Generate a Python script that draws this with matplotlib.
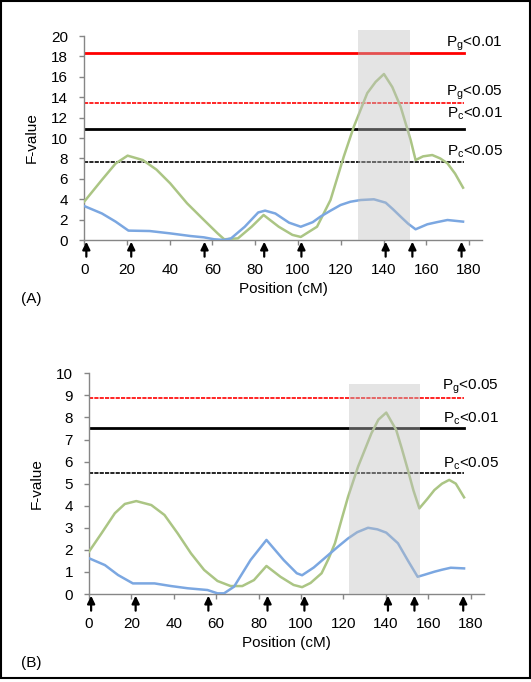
import matplotlib
matplotlib.use("Agg")
from matplotlib import pyplot as plt
from matplotlib.patches import Rectangle
import numpy as np

plt.rcParams['font.family'] = ['Liberation Sans', 'DejaVu Sans']
plt.rcParams['mathtext.fontset'] = 'custom'
plt.rcParams['mathtext.rm'] = 'Liberation Sans'
plt.rcParams['mathtext.default'] = 'regular'

# panel A curves (position in cM, F-value)
a_green_x = [0, 8.3, 14.7, 20.3, 27.4, 33.8, 40.2, 48.1, 56.0, 62.4, 65.5, 71.9, 78.3, 83.9,
             91.0, 97.4, 101.3, 108.9, 115.2, 121.4, 126.1, 132.4, 136.3, 140.2, 144.1,
             148.0, 152.7, 155.0, 158.5, 162.8, 166.5, 169.9, 173.5, 177.2]
a_green_y = [3.76, 5.9, 7.5, 8.27, 7.84, 6.9, 5.56, 3.6, 1.96, 0.65, 0.07, 0.16, 1.3, 2.45,
             1.3, 0.5, 0.3, 1.3, 3.92, 8.17, 11.1, 14.4, 15.5, 16.27, 15.0,
             13.07, 9.8, 7.84, 8.2, 8.33, 8.0, 7.52, 6.5, 5.13]
a_blue_x = [0, 8.3, 14.7, 20.7, 30.6, 40.2, 49.7, 56.0, 60.8, 65.5, 68.7, 75.1, 81.4, 84.6,
            89.4, 95.8, 101.3, 106.9, 110.5, 115.0, 119.9, 124.5, 129.3, 135.5, 141.0,
            144.5, 148.0, 151.5, 155.0, 160.5, 165.0, 169.9, 177.2]
a_blue_y = [3.33, 2.6, 1.8, 0.92, 0.88, 0.65, 0.39, 0.26, 0.07, 0.0, 0.16, 1.3, 2.7, 2.88,
            2.6, 1.7, 1.3, 1.75, 2.29, 2.85, 3.43, 3.75, 3.92, 3.99, 3.66,
            3.0, 2.29, 1.6, 1.05, 1.54, 1.75, 1.96, 1.8]

# panel B curves
b_green_x = [0, 5.9, 12.2, 16.9, 22.3, 29.4, 35.6, 41.8, 48.1, 54.3, 60.6, 66.8, 72.3, 77.8,
             83.7, 90.3, 96.5, 100.5, 104.5, 109.7, 113.0, 116.0, 119.2, 122.2, 126.9,
             133.2, 136.5, 140.2, 144.9, 147.5, 150.4, 153.0, 155.8, 159.5, 162.9, 166.5,
             169.9, 173.0, 176.9]
b_green_y = [1.92, 2.75, 3.66, 4.08, 4.21, 4.03, 3.58, 2.75, 1.84, 1.09, 0.59, 0.36, 0.36, 0.63,
             1.27, 0.78, 0.41, 0.31, 0.5, 0.94, 1.6, 2.3, 3.4, 4.41, 5.77,
             7.28, 7.9, 8.22, 7.43, 6.6, 5.62, 4.7, 3.88, 4.3, 4.71, 5.0,
             5.17, 5.0, 4.38]
b_blue_x = [0, 7.5, 13.7, 20.7, 30.9, 38.7, 46.5, 55.9, 60.6, 63.7, 68.4, 76.2, 83.7, 91.8,
            98.0, 100.5, 106.0, 112.9, 117.5, 122.2, 126.5, 131.6, 136.0, 140.2, 145.7,
            150.5, 155.0, 158.5, 162.9, 166.5, 170.6, 176.9]
b_blue_y = [1.62, 1.31, 0.86, 0.48, 0.48, 0.36, 0.26, 0.18, 0.03, 0.03, 0.33, 1.54, 2.45, 1.54,
            0.94, 0.85, 1.2, 1.77, 2.15, 2.52, 2.8, 3.0, 2.93, 2.78, 2.3,
            1.5, 0.78, 0.88, 1.01, 1.1, 1.19, 1.16]

# marker positions (arrows under the axis)
markers = [1, 22, 56.3, 84.2, 101.6, 141, 153.5, 176.5]

# thresholds and their labels
a_thresh = [18.3, 13.4, 10.9, 7.6]
a_labels = ['P$_{g}$<0.01', 'P$_{g}$<0.05', 'P$_{c}$<0.01', 'P$_{c}$<0.05']
a_colors = ['red', 'red', 'black', 'black']
a_dashed = [False, True, False, True]
a_lab_off = [4.8, 5.8, 8.0, 4.8]

b_thresh = [8.9, 7.5, 5.5]
b_labels = ['P$_{g}$<0.05', 'P$_{c}$<0.01', 'P$_{c}$<0.05']
b_colors = ['red', 'black', 'black']
b_dashed = [True, False, True]
b_lab_off = [5.4, 4.1, 3.5]

# shaded intervals (start, end, top)
a_band = (128.3, 152.5, 20.6)
b_band = (122.7, 156.2, 9.5)

green = '#abc584'
blue = '#7ba7e1'
axis_gray = '#868686'

fig = plt.figure(figsize=(5.31, 6.82), dpi=100)


def panel(rect, gx, gy, bx, by, thresh, labels, colors, dashed, lab_off,
          ymax, ystep, band, line_end, label_x, tag, tag_y, ylab_x):
    ax = fig.add_axes(rect)
    ax.plot(gx, gy, color=green, lw=1.8, solid_joinstyle='round', zorder=3)
    ax.plot(bx, by, color=blue, lw=1.8, solid_joinstyle='round', zorder=3)
    for v, lab, c, d, off in zip(thresh, labels, colors, dashed, lab_off):
        if d:
            ax.plot([0, line_end], [v, v], color=c, lw=1.2, dashes=(2.5, 0.7), zorder=2)
        else:
            ax.plot([0, line_end], [v, v], color=c, lw=2.0, zorder=2)
        ax.annotate(lab, xy=(label_x, v), xytext=(0, off), textcoords='offset points',
                    ha='right', va='baseline', fontsize=11, annotation_clip=False)
    ax.fill_between([band[0], band[1]], 0, band[2], color='#bfbfbf', alpha=0.42,
                    lw=0, zorder=4, clip_on=False)
    for m in markers:
        ax.annotate('', xy=(m, 0), xytext=(0, -12), textcoords='offset points',
                    arrowprops=dict(arrowstyle='-|>,head_length=0.45,head_width=0.22',
                                    color='black', lw=1.6, shrinkA=0, shrinkB=1.2),
                    annotation_clip=False)
    ax.set_xlim(0, 186.3)
    ax.set_ylim(0, ymax)
    ax.set_xticks(np.arange(0, 181, 20))
    ax.set_yticks(np.arange(0, ymax + 0.1, ystep))
    for s in ['top', 'right']:
        ax.spines[s].set_visible(False)
    for s in ['left', 'bottom']:
        ax.spines[s].set_color(axis_gray)
        ax.spines[s].set_linewidth(1.0)
    ax.tick_params(axis='both', direction='out', length=3.5, width=1.0, color=axis_gray,
                   labelsize=11)
    ax.tick_params(axis='x', pad=13)
    ax.tick_params(axis='y', pad=8)
    ax.set_xlabel('Position (cM)', fontsize=11, labelpad=4)
    ax.set_ylabel('F-value', fontsize=11)
    ax.yaxis.set_label_coords(ylab_x, 0.5)
    fig.text(21 / 531, tag_y, tag, fontsize=11, va='center', ha='left')
    return ax


panel([84.2 / 531, 1 - 240 / 682, (482.5 - 84.2) / 531, 204 / 682],
      a_green_x, a_green_y, a_blue_x, a_blue_y,
      a_thresh, a_labels, a_colors, a_dashed, a_lab_off,
      20, 2, a_band, 177.8, 195.8, '(A)', 1 - 299 / 682, -0.115)

panel([89 / 531, 1 - 594 / 682, (484 - 89) / 531, 220.7 / 682],
      b_green_x, b_green_y, b_blue_x, b_blue_y,
      b_thresh, b_labels, b_colors, b_dashed, b_lab_off,
      10, 1, b_band, 177.0, 193.4, '(B)', 1 - 663 / 682, -0.115)

fig.patches.append(Rectangle((1 / 531, 4 / 682), 528.5 / 531, 677 / 682,
                             transform=fig.transFigure, fill=False,
                             edgecolor='black', lw=1.5))

fig.savefig('out.png', dpi=100)
